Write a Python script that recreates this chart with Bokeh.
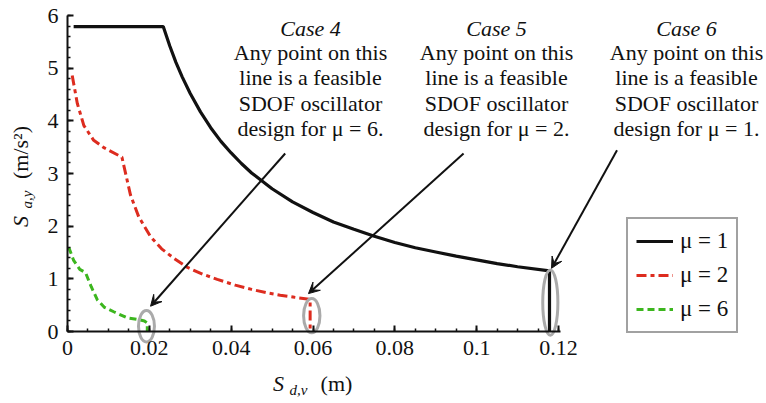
import math
from bokeh.plotting import figure
from bokeh.models import (Range1d, FixedTicker, Legend, LegendItem, Label, Arrow, VeeHead, LinearAxis)
from bokeh.embed import file_html
from bokeh.resources import INLINE

# ---- data ----
mu1_sd = [0.0015, 0.0234, 0.025, 0.0265, 0.028, 0.030, 0.0325, 0.035, 0.0375, 0.040, 0.0425,
          0.045, 0.050, 0.055, 0.060, 0.065, 0.070, 0.075, 0.080, 0.085, 0.090, 0.095,
          0.100, 0.105, 0.110, 0.1178, 0.1178]
mu1_sa = [5.79, 5.79, 5.42, 5.11, 4.84, 4.52, 4.17, 3.87, 3.61, 3.39, 3.19,
          3.01, 2.71, 2.46, 2.26, 2.08, 1.94, 1.81, 1.69, 1.59, 1.51, 1.43,
          1.36, 1.29, 1.23, 1.15, 0.0]

mu2_sd = [0.00115, 0.0024, 0.0040, 0.0064, 0.0089, 0.0133, 0.0154, 0.0174, 0.0203, 0.023,
          0.026, 0.0292, 0.033, 0.0366, 0.041, 0.045, 0.049, 0.052, 0.0555, 0.0593, 0.0593]
mu2_sa = [4.86, 4.33, 3.91, 3.63, 3.49, 3.31, 2.59, 2.18, 1.80, 1.57,
          1.39, 1.22, 1.09, 0.99, 0.88, 0.80, 0.73, 0.69, 0.65, 0.61, 0.0]

mu6_sd = [0.0003, 0.0015, 0.0030, 0.0044, 0.0058, 0.0073, 0.0090, 0.0113, 0.0146, 0.0178,
          0.0188, 0.0195, 0.0195]
mu6_sa = [1.60, 1.35, 1.18, 1.12, 0.85, 0.60, 0.46, 0.375, 0.26, 0.22, 0.20, 0.16, 0.0]

series_labels = ["\u03bc = 1", "\u03bc = 2", "\u03bc = 6"]

# feasible-design markers (ellipses)
ell_x = [0.0193, 0.0597, 0.1180]
ell_y = [0.10, 0.30, 0.55]
ell_w = [0.0039, 0.0040, 0.0037]
ell_h = [0.60, 0.65, 1.24]

# arrows (start -> end, data units)
arr_x0 = [0.0532, 0.0968, 0.1343]
arr_y0 = [3.38, 3.38, 3.44]
arr_x1 = [0.0203, 0.0589, 0.1183]
arr_y1 = [0.48, 0.72, 1.20]

case_titles = ["Case 4", "Case 5", "Case 6"]
case_mu = ["6", "2", "1"]

x_ticks = [0, 0.02, 0.04, 0.06, 0.08, 0.10, 0.12]
x_tick_labels = ["0", "0.02", "0.04", "0.06", "0.08", "0.1", "0.12"]
y_ticks = [0, 1, 2, 3, 4, 5, 6]

# ---- figure: the frame covers the whole canvas; axes are pinned at 0 ----
W, H = 766, 403
FONT = "Liberation Serif"
X0_PX, X012_PX = 67.0, 558.0     # page x of Sd = 0 and Sd = 0.12
Y0_PX, Y6_PX = 331.0, 15.0       # page y of Sa = 0 and Sa = 6
kx = (X012_PX - X0_PX) / 0.12
ky = (Y0_PX - Y6_PX) / 6.0

p = figure(width=W, height=H, output_backend="svg", toolbar_location=None,
           x_range=Range1d(-X0_PX / kx, (W - X0_PX) / kx),
           y_range=Range1d(-(H - Y0_PX) / ky, 6 + Y6_PX / ky),
           x_axis_location=None, y_axis_location=None,
           min_border=0, min_border_left=0, min_border_right=0,
           min_border_top=0, min_border_bottom=0)
p.outline_line_color = None
p.grid.visible = False
p.background_fill_color = "white"
p.border_fill_color = "white"

x_minor = [i * 0.005 for i in range(0, 25)]
y_minor = [i * 0.2 for i in range(0, 31)]

xaxis = LinearAxis(ticker=FixedTicker(ticks=x_ticks, minor_ticks=x_minor),
                   fixed_location=0, bounds=(0, 0.1204))
yaxis = LinearAxis(ticker=FixedTicker(ticks=y_ticks, minor_ticks=y_minor),
                   fixed_location=0, bounds=(0, 6))
xaxis.major_label_overrides = {t: l for t, l in zip(x_ticks, x_tick_labels)}
yaxis.major_label_overrides = {t: str(t) for t in y_ticks}

for ax in (xaxis, yaxis):
    ax.axis_label = None
    ax.axis_line_width = 2
    ax.axis_line_color = "#111111"
    ax.major_tick_in = 6
    ax.major_tick_out = 0
    ax.minor_tick_in = 3
    ax.minor_tick_out = 0
    ax.major_tick_line_width = 2
    ax.minor_tick_line_width = 1.5
    ax.major_tick_line_color = "#111111"
    ax.minor_tick_line_color = "#111111"
    ax.major_label_text_font = FONT
    ax.major_label_text_font_size = "22px"
    ax.major_label_text_color = "#111111"
    ax.major_label_standoff = 9

p.add_layout(xaxis, "below")
p.add_layout(yaxis, "left")

r1 = p.line(mu1_sd, mu1_sa, line_color="#111111", line_width=3.2)
r2 = p.line(mu2_sd, mu2_sa, line_color="#dd2c1f", line_width=3, line_dash="10 4 4 4")
r6 = p.line(mu6_sd, mu6_sa, line_color="#3cb61e", line_width=3, line_dash="7 4")

p.ellipse(x=ell_x, y=ell_y, width=ell_w, height=ell_h, fill_color=None,
          line_color="#aaaaaa", line_width=3)

for i in range(3):
    p.add_layout(Arrow(end=VeeHead(size=11, fill_color="#111111", line_color="#111111", line_width=1),
                       x_start=arr_x0[i], y_start=arr_y0[i], x_end=arr_x1[i], y_end=arr_y1[i],
                       line_color="#111111", line_width=2))

legend = Legend(items=[LegendItem(label=series_labels[0], renderers=[r1]),
                       LegendItem(label=series_labels[1], renderers=[r2]),
                       LegendItem(label=series_labels[2], renderers=[r6])],
                location=(626, H - 333), orientation="vertical",
                label_text_font=FONT, label_text_font_size="23px", label_text_color="#111111",
                glyph_width=37, glyph_height=20, label_height=28, label_standoff=7,
                spacing=6, padding=8, margin=0,
                border_line_color="#444444", border_line_width=2.5,
                background_fill_color="white", background_fill_alpha=1)
p.add_layout(legend)


def put(text, px, py, size="22px", style="normal", angle=0.0, align="center"):
    p.add_layout(Label(x=px, y=H - py, x_units="screen", y_units="screen", text=text,
                       text_font=FONT, text_font_size=size, text_font_style=style,
                       text_color="#111111", text_align=align, text_baseline="middle",
                       angle=angle))


centers = [310, 496, 686]
line_y = [28, 52, 77, 103, 128]
for i in range(3):
    cx = centers[i]
    put(case_titles[i], cx, line_y[0], style="italic")
    put("Any point on this", cx, line_y[1])
    put("line is a feasible", cx, line_y[2])
    put("SDOF oscillator", cx, line_y[3])
    put("design for \u03bc = " + case_mu[i] + ".", cx, line_y[4])

# x-axis label: S_{d,v} (m)
put("S", 278, 383, size="22px", style="italic")
put("d,v", 298, 389, size="15px", style="italic")
put("(m)", 336, 383, size="22px")

# y-axis label: S_{a,y} (m/s^2)
put("S", 20, 221, size="22px", style="italic", angle=math.pi / 2)
put("a,y", 26, 199, size="15px", style="italic", angle=math.pi / 2)
put("(m/s\u00b2)", 20, 152, size="22px", angle=math.pi / 2)

open("out.html", "w").write(file_html(p, INLINE))
